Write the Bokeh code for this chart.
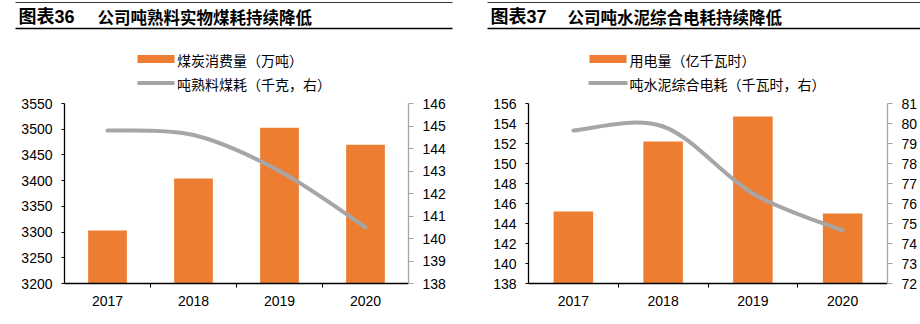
from bokeh.plotting import figure
from bokeh.layouts import column, row
from bokeh.models import Range1d, LinearAxis, FixedTicker
from bokeh.core.properties import value
from bokeh.embed import file_html
from bokeh.resources import INLINE
import numpy as np

# ---------------- data ----------------
years = ["2017", "2018", "2019", "2020"]

coal_use = [3303, 3404, 3503, 3470]          # 煤炭消费量（万吨）
coal_per_ton = [144.8, 144.6, 143.0, 140.5]  # 吨熟料煤耗（千克，右）

power_use = [145.2, 152.2, 154.7, 145.0]     # 用电量（亿千瓦时）
power_per_ton = [79.65, 79.85, 76.5, 74.65]  # 吨水泥综合电耗（千瓦时，右）

left_ticks1 = [3200, 3250, 3300, 3350, 3400, 3450, 3500, 3550]
right_ticks1 = [138, 139, 140, 141, 142, 143, 144, 145, 146]
left_ticks2 = [138, 140, 142, 144, 146, 148, 150, 152, 154, 156]
right_ticks2 = [72, 73, 74, 75, 76, 77, 78, 79, 80, 81]

ORANGE = "#ED7D31"
GRAY = "#A6A6A6"
NUM_FONT = "'Liberation Sans', 'Noto Sans CJK SC'"
CJK_FONT = "Noto Sans CJK SC"

HEADER_H = 93
TOTAL_H = 324


def header():
    h = figure(width=920, height=HEADER_H, x_range=Range1d(0, 920),
               y_range=Range1d(HEADER_H, 0), output_backend="svg",
               toolbar_location=None, min_border=0)
    h.axis.visible = False
    h.grid.visible = False
    h.outline_line_color = None
    # rules
    h.segment(x0=[15, 487], y0=[2, 2], x1=[452, 920], y1=[2, 2],
              line_color="#333333", line_width=1)
    h.segment(x0=[15, 487], y0=[28, 28], x1=[452, 920], y1=[28, 28],
              line_color="#000000", line_width=1.6)
    # titles
    h.text(x=[18, 490], y=[16, 16], text=["图表36", "图表37"],
           text_font=value(NUM_FONT), text_font_style="bold",
           text_font_size="18px", text_baseline="middle", text_color="#000000")
    h.text(x=[97, 567], y=[16, 16],
           text=["公司吨熟料实物煤耗持续降低", "公司吨水泥综合电耗持续降低"],
           text_font=value(CJK_FONT), text_font_style="bold",
           text_font_size="16.5px", text_baseline="middle", text_color="#000000")
    # legends
    h.rect(x=[155.5, 607.5], y=[58.5, 58.5], width=37, height=8,
           fill_color=ORANGE, line_color=None)
    h.segment(x0=[137, 588], y0=[82.5, 82.5], x1=[174, 627], y1=[82.5, 82.5],
              line_color=GRAY, line_width=4)
    h.text(x=[176.5, 629], y=[59, 59],
           text=["煤炭消费量（万吨）", "用电量（亿千瓦时）"],
           text_font=value(CJK_FONT), text_font_size="14px",
           text_baseline="middle", text_color="#000000")
    h.text(x=[176.5, 629], y=[83, 83],
           text=["吨熟料煤耗（千克，右）", "吨水泥综合电耗（千瓦时，右）"],
           text_font=value(CJK_FONT), text_font_size="14px",
           text_baseline="middle", text_color="#000000")
    return h


def smooth_bezier(xs, ys):
    xs = np.asarray(xs, float)
    ys = np.asarray(ys, float)
    n = len(xs)
    x0, y0, x1, y1, cx0, cy0, cx1, cy1 = ([] for _ in range(8))
    for i in range(n - 1):
        im = max(i - 1, 0)
        ip = min(i + 2, n - 1)
        x0.append(xs[i]); y0.append(ys[i])
        x1.append(xs[i + 1]); y1.append(ys[i + 1])
        cx0.append(xs[i] + (xs[i + 1] - xs[im]) / 6)
        cy0.append(ys[i] + (ys[i + 1] - ys[im]) / 6)
        cx1.append(xs[i + 1] - (xs[ip] - xs[i]) / 6)
        cy1.append(ys[i + 1] - (ys[ip] - ys[i]) / 6)
    return dict(x0=x0, y0=y0, x1=x1, y1=y1, cx0=cx0, cy0=cy0, cx1=cx1, cy1=cy1)


def chart(bars, line, lticks, rticks, border_left, border_right, bar_w):
    ch = TOTAL_H - HEADER_H
    p = figure(width=460, height=ch, output_backend="svg", toolbar_location=None,
               x_range=Range1d(0, len(years)),
               y_range=Range1d(lticks[0], lticks[-1]),
               min_border_left=border_left, min_border_right=border_right,
               min_border_top=10, min_border_bottom=41)
    p.outline_line_color = None
    p.grid.visible = False
    p.extra_y_ranges = {"right": Range1d(rticks[0], rticks[-1])}

    xs = [i + 0.5 for i in range(len(years))]
    p.vbar(x=xs, top=bars, bottom=lticks[0], width=bar_w,
           fill_color=ORANGE, line_color=None)
    p.bezier(**smooth_bezier(xs, line), y_range_name="right",
             line_color=GRAY, line_width=4, line_cap="round")

    # x axis
    xa = p.xaxis[0]
    xa.ticker = FixedTicker(ticks=xs, minor_ticks=[1, 2, 3])
    xa.major_label_overrides = {x: y for x, y in zip(xs, years)}
    xa.major_tick_out = 0
    xa.major_tick_in = 0
    xa.minor_tick_out = 4
    xa.minor_tick_in = 0
    xa.minor_tick_line_color = "#000000"
    xa.axis_line_color = "#000000"
    xa.axis_line_width = 1.3
    xa.major_label_standoff = 8
    xa.major_label_text_font = NUM_FONT
    xa.major_label_text_font_size = "14px"
    xa.major_label_text_color = "#000000"

    # left axis
    ya = p.yaxis[0]
    ya.ticker = FixedTicker(ticks=lticks)
    ya.major_tick_out = 3
    ya.major_tick_in = 0
    ya.minor_tick_out = 0
    ya.minor_tick_in = 0
    ya.axis_line_color = "#000000"
    ya.axis_line_width = 1.3
    ya.major_tick_line_color = "#000000"
    ya.major_label_standoff = 9
    ya.major_label_text_font = NUM_FONT
    ya.major_label_text_font_size = "14px"
    ya.major_label_text_color = "#000000"

    # right axis
    ra = LinearAxis(y_range_name="right", ticker=FixedTicker(ticks=rticks))
    ra.major_tick_out = 5
    ra.major_tick_in = 0
    ra.minor_tick_out = 0
    ra.minor_tick_in = 0
    ra.axis_line_color = GRAY
    ra.axis_line_width = 1.3
    ra.major_tick_line_color = GRAY
    ra.major_label_standoff = 9
    ra.major_label_text_font = NUM_FONT
    ra.major_label_text_font_size = "14px"
    ra.major_label_text_color = "#000000"
    p.add_layout(ra, "right")
    return p


p1 = chart(coal_use, coal_per_ton, left_ticks1, right_ticks1, 64, 52, 0.45)
p2 = chart(power_use, power_per_ton, left_ticks2, right_ticks2, 68, 32, 0.44)

layout = column(header(), row(p1, p2, spacing=0), spacing=0)
open("out.html", "w").write(file_html(layout, INLINE))
